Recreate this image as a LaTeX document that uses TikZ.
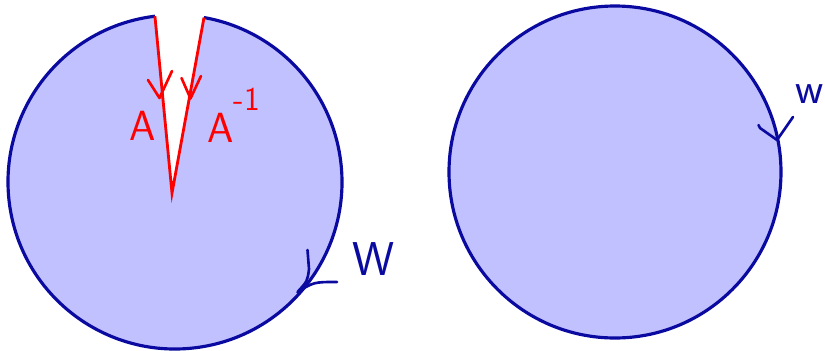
\documentclass[tikz,border=0pt]{standalone}
\usepackage{xcolor}
\usepackage{tikz}
\usetikzlibrary{calc}
\definecolor{diskfill}{RGB}{193,193,255}
\definecolor{rimblue}{RGB}{10,10,160}

\begin{document}
\begin{tikzpicture}[
    rim/.style={draw=rimblue, line width=1.8pt},
    cut/.style={draw=red, line width=1.6pt, line join=miter},
    vmark/.style={line width=1.5pt, line cap=round, line join=round},
    hand/.style={font=\sffamily\fontsize{24}{26}\selectfont, inner sep=0pt}
]
  \useasboundingbox (0,0) rectangle (16.5,7);
  % left disk, cut open along A
  \coordinate (lc) at (3.5,3.36);
  \coordinate (tl) at ($(lc)+(96.9:3.34)$);
  \coordinate (tr) at ($(lc)+(80:3.34)$);
  \coordinate (apex) at (3.44,3.14);
  \fill[diskfill] (tl) arc[start angle=96.9, end angle=440, radius=3.34]
    -- (apex) -- cycle;
  \draw[rim] (tl) arc[start angle=96.9, end angle=440, radius=3.34];
  \draw[cut] (tl) -- (apex) -- (tr);
  % orientation marks on the cut
  \coordinate (ltip) at (3.19,5.04);
  \coordinate (rtip) at (3.81,5.03);
  \draw[vmark, red] (2.96,5.40) -- (ltip) -- (3.44,5.58);
  \draw[vmark, red] (3.63,5.44) -- (rtip) -- (4.02,5.48);
  \node[hand, text=red, anchor=base west] (lblA) at (2.58,4.20) {A};
  \node[hand, text=red, anchor=base west] (lblAinv) at (4.14,4.16)
       {A\raisebox{0.75em}{\fontsize{19}{21}\selectfont -1}};
  % boundary word
  \coordinate (Wtip) at (5.95,1.16);
  \draw[vmark, rimblue] (6.15,2.0) -- (6.18,1.62)
    .. controls (6.15,1.38) .. (Wtip)
    .. controls (6.28,1.36) .. (6.74,1.36);
  \node[hand, text=rimblue, anchor=base west, font=\sffamily\fontsize{27}{29}\selectfont]
       (lblW) at (7.04,1.50) {W};

  % right disk
  \coordinate (rc) at (12.3,3.56);
  \draw[rim, fill=diskfill] (rc) circle[radius=3.32];
  \coordinate (wtip) at (15.54,4.20);
  \draw[vmark, rimblue] (15.17,4.50) -- (15.2,4.44) -- (wtip)
    .. controls (15.68,4.40) .. (15.86,4.66);
  \node[hand, text=rimblue, anchor=base west, font=\sffamily\fontsize{25}{27}\selectfont]
       (lblw) at (15.9,4.94) {w};
\end{tikzpicture}
\end{document}
